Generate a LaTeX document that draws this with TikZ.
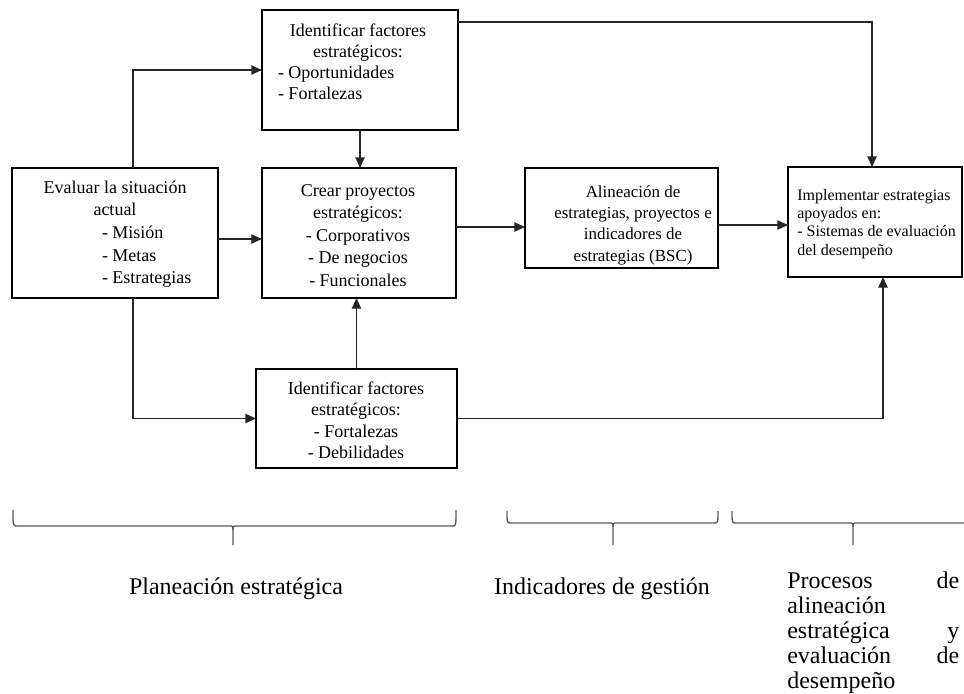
\documentclass[tikz,border=0pt]{standalone}
\usepackage{fontspec}
\setmainfont{Liberation Serif}
\usetikzlibrary{arrows.meta,calc}
\begin{document}
\begin{tikzpicture}[x=0.75pt,y=-0.75pt,
  box/.style={draw=black,line width=1.5pt,inner sep=0pt,outer sep=0pt},
  conn/.style={draw=black!85,line width=1pt},
  arr/.style={conn,-{Triangle[length=8pt,width=7pt]}},
  brc/.style={draw=black!65,line width=1pt},
  txt/.style={inner sep=0pt,anchor=base},
]
\useasboundingbox (0,0) rectangle (964,693);

% boxes
\node[box,minimum width=147pt,minimum height=90pt] (T) at (360,70) {};
\node[box,minimum width=154.5pt,minimum height=97.5pt] (E) at (115,233) {};
\node[box,minimum width=145.5pt,minimum height=97.5pt] (C) at (359,233) {};
\node[box,minimum width=144.75pt,minimum height=75pt] (A) at (621.5,218) {};
\node[box,minimum width=130.5pt,minimum height=82.5pt] (I) at (875,222) {};
\node[box,minimum width=150.75pt,minimum height=74.25pt] (B) at (356.5,418.5) {};

% box texts
\node[txt] (Tt) at (358,36) {\fontsize{13.5}{15.75}\selectfont\begin{tabular}[t]{@{}c@{}}Identificar factores\\estratégicos:\\\makebox[120pt][l]{- Oportunidades}\\\makebox[120pt][l]{- Fortalezas}\end{tabular}};
\node[txt] (Et) at (115,193) {\fontsize{13.5}{17}\selectfont\begin{tabular}[t]{@{}c@{}}Evaluar la situación\\actual\\\makebox[19.5pt][l]{- Misión}\\\makebox[19.5pt][l]{- Metas}\\\makebox[19.5pt][l]{- Estrategias}\end{tabular}};
\node[txt] (Ct) at (358,196) {\fontsize{13.5}{16.9}\selectfont\begin{tabular}[t]{@{}c@{}}Crear proyectos\\estratégicos:\\- Corporativos\\- De negocios\\- Funcionales\end{tabular}};
\node[txt] (Bt) at (356,394) {\fontsize{13.5}{16.2}\selectfont\begin{tabular}[t]{@{}c@{}}Identificar factores\\estratégicos:\\- Fortalezas\\- Debilidades\end{tabular}};
\node[txt] (At) at (633,197) {\fontsize{12.7}{16}\selectfont\begin{tabular}[t]{@{}c@{}}Alineación de\\estrategias, proyectos e\\indicadores de\\estrategias (BSC)\end{tabular}};
\node[txt,anchor=base west] (It) at (797,200) {\fontsize{12}{13.8}\selectfont\begin{tabular}[t]{@{}l@{}}Implementar estrategias\\apoyados en:\\- Sistemas de evaluación\\del desempeño\end{tabular}};

% connectors
\draw[arr] ([xshift=13.5pt]E.north) |- (T.west);
\draw[arr] ([xshift=13.5pt]E.south) |- (B.west);
\draw[arr] ([yshift=-9pt]T.north east) -| ([xshift=-2.25pt]I.north);
\draw[arr] (T.south) -- (T.south |- C.north);
\draw[arr] ([yshift=-4.5pt]E.east) -- ([yshift=-4.5pt]E.east -| C.west);
\draw[arr] ([yshift=4.5pt]C.east) -- ([yshift=4.5pt]C.east -| A.west);
\draw[arr] ([yshift=-5.25pt]A.east) -- ([yshift=-5.25pt]A.east -| I.west);
\draw[arr] (B.north) -- (B.north |- C.south);
\draw[arr] (B.east) -| ([xshift=6pt]I.south);

% braces
\draw[brc] (13,510) .. controls (13,526) .. (17,526) -- (229,526) .. controls (233,526) .. (233,530) -- (233,545);
\draw[brc] (233,530) .. controls (233,526) .. (237,526) -- (452,526) .. controls (456,526) .. (456,510);
\draw[brc] (507,511) .. controls (507,523) .. (511,523) -- (609,523) .. controls (613,523) .. (613,527) -- (613,545);
\draw[brc] (613,527) .. controls (613,523) .. (617,523) -- (714,523) .. controls (718,523) .. (718,511);
\draw[brc] (732,511) .. controls (732,523) .. (736,523) -- (849,523) .. controls (853,523) .. (853,527) -- (853,545);
\draw[brc] (853,527) .. controls (853,523) .. (857,523) -- (964,523);

% labels
\node[txt] (L1) at (236,594) {\fontsize{18}{20.5}\selectfont Planeación estratégica};
\node[txt] (L2) at (602,594) {\fontsize{18}{20.5}\selectfont Indicadores de gestión};
\node[txt,anchor=base west] (L3) at (787,588) {\fontsize{18}{18.75}\selectfont\begin{tabular}[t]{@{}l@{}}\hbox to 129pt{Procesos\hfil de}\\alineación\\\hbox to 129pt{estratégica\hfil y}\\\hbox to 129pt{evaluación\hfil de}\\desempeño\end{tabular}};
\end{tikzpicture}
\end{document}
